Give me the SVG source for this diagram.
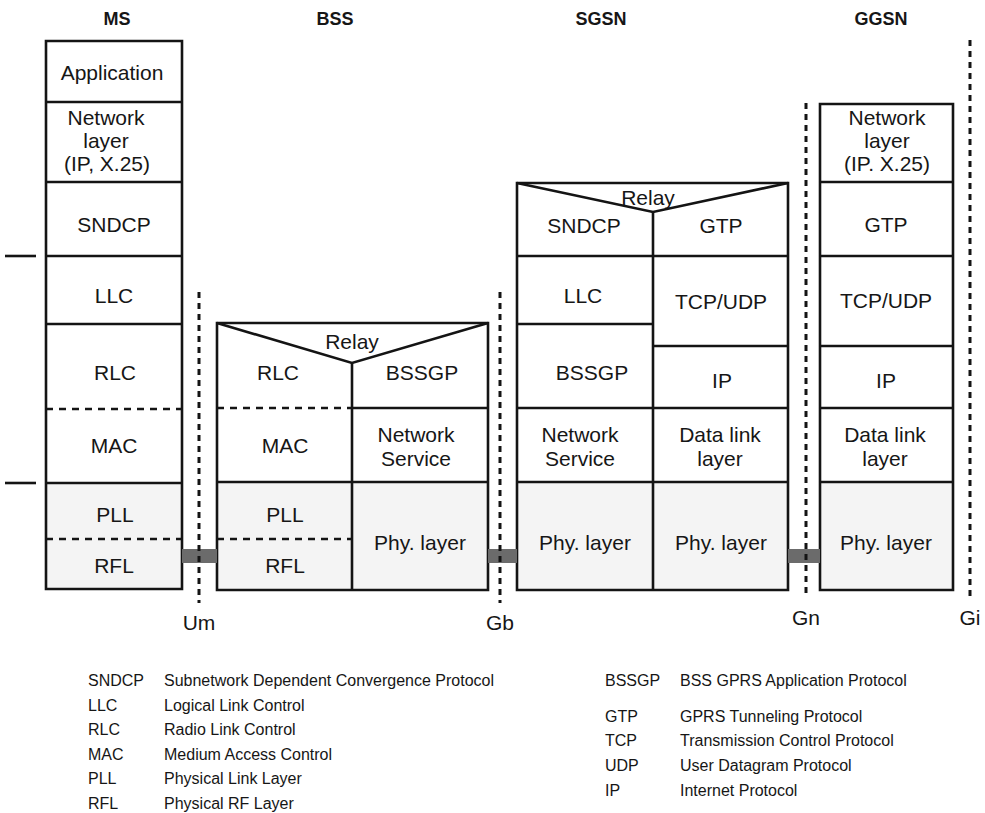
<svg xmlns="http://www.w3.org/2000/svg" width="985" height="813" viewBox="0 0 985 813">
<style>
  .t{font-family:"Liberation Sans",Arial,Helvetica,sans-serif;font-size:21px;text-anchor:middle;fill:#161616}
  .h{font-family:"Liberation Sans",Arial,Helvetica,sans-serif;font-size:18px;font-weight:bold;text-anchor:middle;fill:#161616}
  .lg{font-family:"Liberation Sans",Arial,Helvetica,sans-serif;font-size:16px;fill:#161616}
  .cw{fill:#ffffff}
  .cg{fill:#f4f4f4}
  .frame{fill:none;stroke:#141414;stroke-width:2.6}
  .dash{fill:none;stroke:#141414;stroke-width:2.6;stroke-dasharray:7 6}
  .iface{fill:none;stroke:#141414;stroke-width:3;stroke-dasharray:6 5}
  .bar{fill:#6b6b6b}
  .tick{stroke:#141414;stroke-width:2.6}
</style>
<rect width="985" height="813" fill="#ffffff"/>

<!-- headers -->
<text class="h" x="117" y="25">MS</text>
<text class="h" x="335" y="25">BSS</text>
<text class="h" x="601" y="25">SGSN</text>
<text class="h" x="881" y="25">GGSN</text>

<!-- MS stack -->
<g id="ms">
  <g id="ms-application"><rect class="cw" x="46" y="41" width="136" height="61"/><text class="t" x="112" y="80">Application</text></g>
  <g id="ms-network"><rect class="cw" x="46" y="102" width="136" height="80"/><text class="t" x="106" y="125">Network</text><text class="t" x="106" y="148">layer</text><text class="t" x="107" y="171">(IP, X.25)</text></g>
  <g id="ms-sndcp"><rect class="cw" x="46" y="182" width="136" height="74"/><text class="t" x="114" y="232">SNDCP</text></g>
  <g id="ms-llc"><rect class="cw" x="46" y="256" width="136" height="68"/><text class="t" x="114" y="303">LLC</text></g>
  <g id="ms-rlc"><rect class="cw" x="46" y="324" width="136" height="85"/><text class="t" x="115" y="380">RLC</text></g>
  <g id="ms-mac"><rect class="cw" x="46" y="409" width="136" height="74"/><text class="t" x="114" y="453">MAC</text></g>
  <g id="ms-pll"><rect class="cg" x="46" y="483" width="136" height="56"/><text class="t" x="115" y="522">PLL</text></g>
  <g id="ms-rfl"><rect class="cg" x="46" y="539" width="136" height="50"/><text class="t" x="114" y="573">RFL</text></g>
  <path class="frame" d="M46,41 H182 V589 H46 Z M46,102 H182 M46,182 H182 M46,256 H182 M46,324 H182 M46,483 H182"/>
  <path class="dash" d="M46,409 H182 M46,539 H182"/>
</g>
<line class="tick" x1="5" y1="256" x2="36" y2="256"/>
<line class="tick" x1="5" y1="483" x2="36" y2="483"/>

<!-- BSS stack -->
<g id="bss">
  <g id="bss-rlc"><rect class="cw" x="217" y="323" width="135" height="85"/><text class="t" x="278" y="380">RLC</text></g>
  <g id="bss-bssgp"><rect class="cw" x="352" y="323" width="136" height="85"/><text class="t" x="422" y="380">BSSGP</text></g>
  <g id="bss-mac"><rect class="cw" x="217" y="408" width="135" height="74"/><text class="t" x="285" y="453">MAC</text></g>
  <g id="bss-ns"><rect class="cw" x="352" y="408" width="136" height="74"/><text class="t" x="416" y="442">Network</text><text class="t" x="416" y="466">Service</text></g>
  <g id="bss-pll"><rect class="cg" x="217" y="482" width="135" height="57"/><text class="t" x="285" y="522">PLL</text></g>
  <g id="bss-rfl"><rect class="cg" x="217" y="539" width="135" height="51"/><text class="t" x="285" y="573">RFL</text></g>
  <g id="bss-phy"><rect class="cg" x="352" y="482" width="136" height="108"/><text class="t" x="420" y="550">Phy. layer</text></g>
  <g id="bss-relay"><path class="frame" d="M217,323 L352,363 L488,323"/><text class="t" x="352" y="349">Relay</text></g>
  <path class="frame" d="M217,323 H488 V590 H217 Z M352,363 V590 M352,408 H488 M217,482 H488"/>
  <path class="dash" d="M217,408 H352 M217,539 H352"/>
</g>

<!-- SGSN stack -->
<g id="sgsn">
  <g id="sgsn-sndcp"><rect class="cw" x="517" y="183" width="136" height="73"/><text class="t" x="584" y="233">SNDCP</text></g>
  <g id="sgsn-gtp"><rect class="cw" x="653" y="183" width="135" height="73"/><text class="t" x="721" y="233">GTP</text></g>
  <g id="sgsn-llc"><rect class="cw" x="517" y="256" width="136" height="68"/><text class="t" x="583" y="303">LLC</text></g>
  <g id="sgsn-tcpudp"><rect class="cw" x="653" y="256" width="135" height="90"/><text class="t" x="721" y="309">TCP/UDP</text></g>
  <g id="sgsn-bssgp"><rect class="cw" x="517" y="324" width="136" height="84"/><text class="t" x="592" y="380">BSSGP</text></g>
  <g id="sgsn-ip"><rect class="cw" x="653" y="346" width="135" height="62"/><text class="t" x="722" y="388">IP</text></g>
  <g id="sgsn-ns"><rect class="cw" x="517" y="408" width="136" height="74"/><text class="t" x="580" y="442">Network</text><text class="t" x="580" y="466">Service</text></g>
  <g id="sgsn-dll"><rect class="cw" x="653" y="408" width="135" height="74"/><text class="t" x="720" y="442">Data link</text><text class="t" x="720" y="466">layer</text></g>
  <g id="sgsn-phy1"><rect class="cg" x="517" y="482" width="136" height="108"/><text class="t" x="585" y="550">Phy. layer</text></g>
  <g id="sgsn-phy2"><rect class="cg" x="653" y="482" width="135" height="108"/><text class="t" x="721" y="550">Phy. layer</text></g>
  <g id="sgsn-relay"><path class="frame" d="M517,183 L653,212 L788,183"/><text class="t" x="648" y="205">Relay</text></g>
  <path class="frame" d="M517,183 H788 V590 H517 Z M653,212 V590 M517,256 H788 M517,324 H653 M653,346 H788 M517,408 H788 M517,482 H788"/>
</g>

<!-- GGSN stack -->
<g id="ggsn">
  <g id="ggsn-network"><rect class="cw" x="820" y="104" width="133" height="78"/><text class="t" x="887" y="125">Network</text><text class="t" x="887" y="148">layer</text><text class="t" x="887" y="171">(IP. X.25)</text></g>
  <g id="ggsn-gtp"><rect class="cw" x="820" y="182" width="133" height="74"/><text class="t" x="886" y="232">GTP</text></g>
  <g id="ggsn-tcpudp"><rect class="cw" x="820" y="256" width="133" height="90"/><text class="t" x="886" y="308">TCP/UDP</text></g>
  <g id="ggsn-ip"><rect class="cw" x="820" y="346" width="133" height="62"/><text class="t" x="886" y="388">IP</text></g>
  <g id="ggsn-dll"><rect class="cw" x="820" y="408" width="133" height="74"/><text class="t" x="885" y="442">Data link</text><text class="t" x="885" y="466">layer</text></g>
  <g id="ggsn-phy"><rect class="cg" x="820" y="482" width="133" height="108"/><text class="t" x="886" y="550">Phy. layer</text></g>
  <path class="frame" d="M820,104 H953 V590 H820 Z M820,182 H953 M820,256 H953 M820,346 H953 M820,408 H953 M820,482 H953"/>
</g>

<!-- connectors: physical links and interfaces -->
<g id="connectors">
  <rect class="bar" x="182" y="549" width="35" height="14"/>
  <rect class="bar" x="488" y="549" width="29" height="14"/>
  <rect class="bar" x="788" y="549" width="32" height="14"/>
  <line class="iface" x1="199" y1="292" x2="199" y2="603"/>
  <line class="iface" x1="500" y1="292" x2="500" y2="603"/>
  <line class="iface" x1="806" y1="103" x2="806" y2="597"/>
  <line class="iface" x1="970" y1="40" x2="970" y2="597"/>
  <text class="t" x="199" y="630">Um</text>
  <text class="t" x="500" y="630">Gb</text>
  <text class="t" x="806" y="625">Gn</text>
  <text class="t" x="970" y="625">Gi</text>
</g>

<!-- legend -->
<g id="legend">
  <text class="lg" x="88" y="686">SNDCP</text><text class="lg" x="164" y="686">Subnetwork Dependent Convergence Protocol</text>
  <text class="lg" x="88" y="711">LLC</text><text class="lg" x="164" y="711">Logical Link Control</text>
  <text class="lg" x="88" y="735">RLC</text><text class="lg" x="164" y="735">Radio Link Control</text>
  <text class="lg" x="88" y="760">MAC</text><text class="lg" x="164" y="760">Medium Access Control</text>
  <text class="lg" x="88" y="784">PLL</text><text class="lg" x="164" y="784">Physical Link Layer</text>
  <text class="lg" x="88" y="809">RFL</text><text class="lg" x="164" y="809">Physical RF Layer</text>
  <text class="lg" x="605" y="686">BSSGP</text><text class="lg" x="680" y="686">BSS GPRS Application Protocol</text>
  <text class="lg" x="605" y="722">GTP</text><text class="lg" x="680" y="722">GPRS Tunneling Protocol</text>
  <text class="lg" x="605" y="746">TCP</text><text class="lg" x="680" y="746">Transmission Control Protocol</text>
  <text class="lg" x="605" y="771">UDP</text><text class="lg" x="680" y="771">User Datagram Protocol</text>
  <text class="lg" x="605" y="796">IP</text><text class="lg" x="680" y="796">Internet Protocol</text>
</g>
</svg>
